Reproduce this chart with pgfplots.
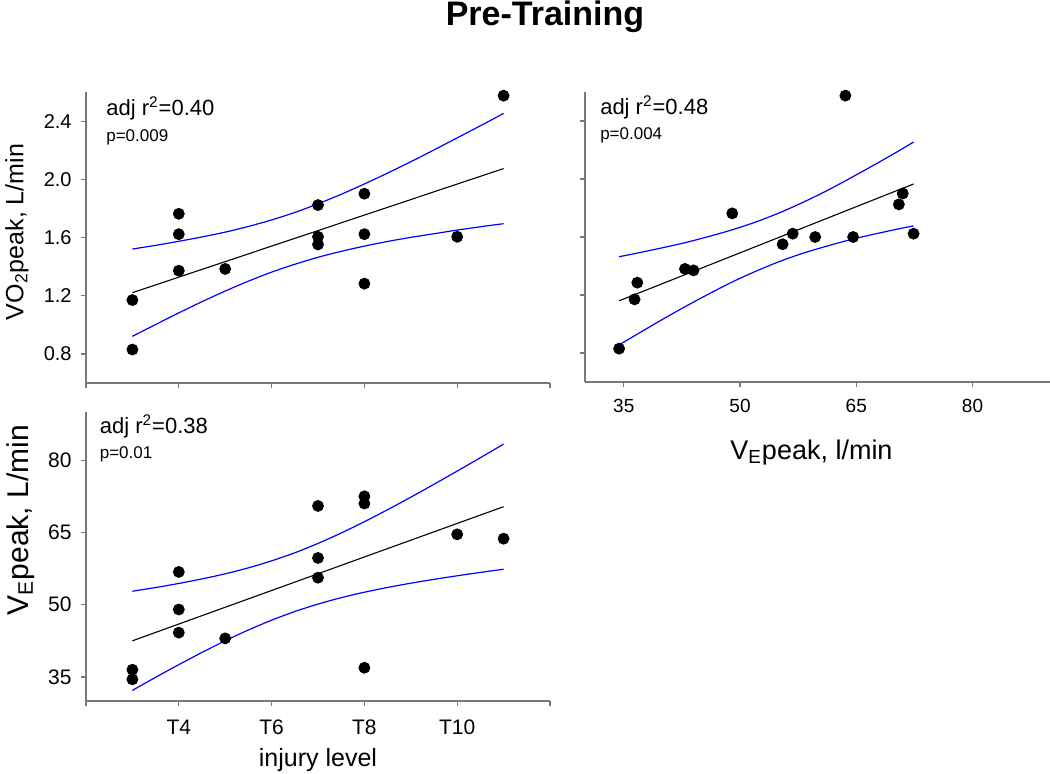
\documentclass[border=0pt]{standalone}
\usepackage{fontspec}
\setmainfont{Liberation Sans}
\usepackage{pgfplots}
\pgfplotsset{compat=1.18}
\definecolor{axgray}{RGB}{120,120,120}
\definecolor{ciblue}{RGB}{0,0,255}
\pgfplotsset{
  panel/.style={
    scale only axis,
    axis lines*=left,
    axis line style={axgray, line width=0.65pt},
    every tick/.style={axgray, line width=0.6pt},
    tick align=outside,
    major tick length=2.6pt,
    clip=false,
    xticklabel style={anchor=north, inner sep=0pt, yshift=-6pt},
    yticklabel style={anchor=east, inner sep=0pt, xshift=-4.4pt},
  },
  pts/.style={only marks, mark=*, mark size=2.75pt, black, mark options={fill=black, draw=black}},
  fit/.style={black, line width=0.55pt, no marks},
  ci/.style={ciblue, line width=0.6pt, no marks, smooth},
}
\begin{document}
\begin{tikzpicture}
\path[use as bounding box] (0,0) rectangle (525pt,-386.5pt);
\node[font=\bfseries\fontsize{17}{20}\selectfont, anchor=base] at (272.5pt,-12.8pt) {Pre-Training};

% ---------------- top left: VO2peak vs injury level
\begin{axis}[panel, at={(43pt,-191.5pt)}, anchor=south west,
  width=232pt, height=145.5pt,
  xmin=2, xmax=12, ymin=0.6, ymax=2.6,
  xtick={2,4,6,8,10,12}, xticklabels={},
  ytick={0.8,1.2,1.6,2.0,2.4}, yticklabels={0.8,1.2,1.6,2.0,2.4},
  ticklabel style={font=\fontsize{10}{11}\selectfont},
  ylabel={VO\textsubscript{2}peak, L/min},
  ylabel style={font=\fontsize{12.5}{14}\selectfont, at={(axis description cs:-0.1351,0.519)}, anchor=base},
]
\addplot[ci] coordinates {(3,1.521) (3.5,1.546) (4,1.574) (4.5,1.604) (5,1.637) (5.5,1.676) (6,1.721) (6.5,1.772) (7,1.832) (7.5,1.897) (8,1.968) (8.5,2.043) (9,2.121) (9.5,2.202) (10,2.285) (10.5,2.368) (11,2.453)};
\addplot[ci] coordinates {(3,0.921) (3.5,1.002) (4,1.082) (4.5,1.159) (5,1.232) (5.5,1.300) (6,1.362) (6.5,1.416) (7,1.464) (7.5,1.505) (8,1.541) (8.5,1.573) (9,1.601) (9.5,1.626) (10,1.651) (10.5,1.674) (11,1.695)};
\addplot[fit] coordinates {(3,1.221) (11,2.074)};
\addplot[pts] coordinates {(3,0.83) (3,1.17) (4,1.763) (4,1.623) (4,1.372) (5,1.384) (7,1.823) (7,1.605) (7,1.552) (8,1.901) (8,1.623) (8,1.283) (10,1.605) (11,2.575)};
\node[anchor=base west, font=\fontsize{11}{13}\selectfont, inner sep=0pt] at (rel axis cs:0.043,0.918) {adj r\textsuperscript{2}=0.40};
\node[anchor=base west, font=\fontsize{8.5}{10}\selectfont, inner sep=0pt] at (rel axis cs:0.043,0.829) {p=0.009};
\end{axis}

% ---------------- top right: VO2peak vs VEpeak
\begin{axis}[panel, at={(292.5pt,-191pt)}, anchor=south west,
  width=232.5pt, height=145pt,
  xmin=30, xmax=90, ymin=0.6, ymax=2.6,
  xtick={35,50,65,80}, xticklabels={35,50,65,80},
  ytick={0.8,1.2,1.6,2.0,2.4}, yticklabels={},
  ticklabel style={font=\fontsize{9.5}{11}\selectfont},
  xlabel={V\textsubscript{E}peak, l/min},
  xlabel style={font=\fontsize{13.5}{15}\selectfont, at={(axis description cs:0.487,-0.2655)}, anchor=base},
]
\addplot[ci] coordinates {(34.4,1.464) (37,1.492) (40,1.526) (43,1.562) (46,1.604) (49,1.650) (52,1.703) (55,1.765) (58,1.836) (61,1.914) (64,1.999) (67,2.088) (70,2.179) (72.4,2.255)};
\addplot[ci] coordinates {(34.4,0.856) (37,0.938) (40,1.032) (43,1.122) (46,1.208) (49,1.290) (52,1.363) (55,1.429) (58,1.486) (61,1.534) (64,1.578) (67,1.616) (70,1.651) (72.4,1.677)};
\addplot[fit] coordinates {(34.4,1.160) (72.4,1.966)};
\addplot[pts] coordinates {(34.4,0.83) (36.4,1.17) (36.75,1.285) (42.9,1.38) (44.0,1.37) (49.0,1.763) (55.5,1.55) (56.8,1.623) (59.7,1.60) (63.6,2.575) (64.6,1.60) (70.5,1.825) (71.0,1.90) (72.4,1.623)};
\node[anchor=base west, font=\fontsize{11}{13}\selectfont, inner sep=0pt] at (rel axis cs:0.032,0.924) {adj r\textsuperscript{2}=0.48};
\node[anchor=base west, font=\fontsize{8.5}{10}\selectfont, inner sep=0pt] at (rel axis cs:0.032,0.837) {p=0.004};
\end{axis}

% ---------------- bottom left: VEpeak vs injury level
\begin{axis}[panel, at={(43pt,-350.5pt)}, anchor=south west,
  width=232pt, height=144.5pt,
  xmin=2, xmax=12, ymin=30, ymax=90,
  xtick={2,4,6,8,10,12}, xticklabels={,T4,T6,T8,T10,},
  ytick={35,50,65,80}, yticklabels={35,50,65,80},
  ticklabel style={font=\fontsize{10.5}{12}\selectfont},
  xticklabel style={yshift=-0.6pt},
  xlabel={injury level},
  xlabel style={font=\fontsize{12.5}{14}\selectfont, at={(axis description cs:0.5,-0.225)}, anchor=base},
  ylabel={V\textsubscript{E}peak, L/min},
  ylabel style={font=\fontsize{15}{17}\selectfont, at={(axis description cs:-0.1244,0.626)}, anchor=base},
]
\addplot[ci] coordinates {(3,52.79) (3.5,53.56) (4,54.41) (4.5,55.35) (5,56.41) (5.5,57.65) (6,59.10) (6.5,60.78) (7,62.72) (7.5,64.88) (8,67.23) (8.5,69.72) (9,72.32) (9.5,75.00) (10,77.74) (10.5,80.52) (11,83.34)};
\addplot[ci] coordinates {(3,32.21) (3.5,34.92) (4,37.55) (4.5,40.09) (5,42.51) (5.5,44.75) (6,46.78) (6.5,48.58) (7,50.12) (7.5,51.46) (8,52.59) (8.5,53.58) (9,54.46) (9.5,55.26) (10,56.00) (10.5,56.70) (11,57.36)};
\addplot[fit] coordinates {(3,42.50) (11,70.35)};
\addplot[pts] coordinates {(3,34.5) (3,36.5) (4,56.8) (4,49.0) (4,44.2) (5,43.0) (7,70.5) (7,59.7) (7,55.6) (8,72.5) (8,71.0) (8,36.9) (10,64.6) (11,63.7)};
\node[anchor=base west, font=\fontsize{11}{13}\selectfont, inner sep=0pt] at (rel axis cs:0.029,0.926) {adj r\textsuperscript{2}=0.38};
\node[anchor=base west, font=\fontsize{8.5}{10}\selectfont, inner sep=0pt] at (rel axis cs:0.029,0.840) {p=0.01};
\end{axis}
\end{tikzpicture}
\end{document}
